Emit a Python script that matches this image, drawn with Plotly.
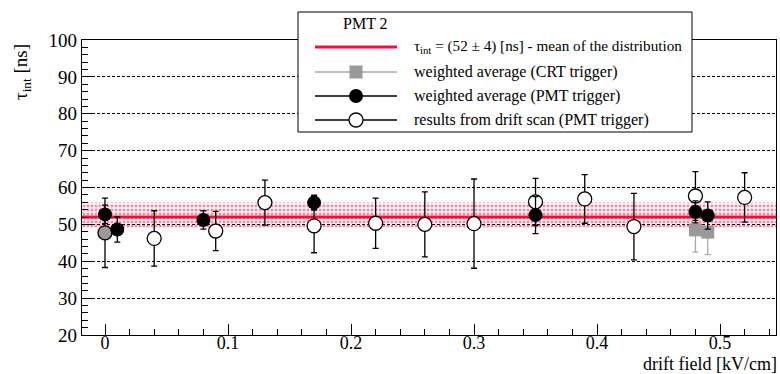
import plotly.graph_objects as go

# ---------------- data ----------------
scan_x = [0.0, 0.04, 0.09, 0.13, 0.17, 0.22, 0.26, 0.30, 0.35, 0.39, 0.43, 0.48, 0.52]
scan_y = [47.7, 46.2, 48.2, 55.9, 49.6, 50.3, 50.0, 50.2, 56.1, 56.9, 49.4, 57.7, 57.3]
scan_err = [9.4, 7.5, 5.3, 6.1, 7.3, 6.8, 8.8, 12.1, 6.4, 6.6, 9.0, 6.6, 6.7]

pmt_x = [0.0, 0.01, 0.08, 0.17, 0.35, 0.48, 0.49]
pmt_y = [52.7, 48.6, 51.2, 55.9, 52.5, 53.4, 52.4]
pmt_err = [2.5, 3.4, 2.5, 2.0, 5.0, 3.0, 3.7]

crt_x = [0.48, 0.49]
crt_y = [48.5, 47.9]
crt_err = [6.0, 6.1]

mean_val = 52.0
band_lo = 49.0
band_hi = 55.9

x_range = [-0.0187, 0.5455]
y_range = [20, 100]

# ---------------- layout geometry (pixels) ----------------
W, H = 780, 374
L, R, T, B = 82, 4, 40, 39
PW = W - L - R
PH = H - T - B


def px_x(px):
    return (px - L) / PW


def px_y(py):
    return (H - B - py) / PH


FONT = "Liberation Serif, DejaVu Serif, serif"
RED = "#ff0a3c"

fig = go.Figure()

# band (mean +- uncertainty)
fig.add_trace(go.Scatter(
    x=[x_range[0], x_range[1], x_range[1], x_range[0], x_range[0]],
    y=[band_lo, band_lo, band_hi, band_hi, band_lo],
    mode="lines", line=dict(width=0), fill="toself",
    fillcolor="rgba(255,255,255,0)",
    fillpattern=dict(shape=".", fgcolor=RED, bgcolor="rgba(0,0,0,0)", size=4, solidity=0.42),
    hoverinfo="skip", showlegend=False,
))
# mean line
fig.add_trace(go.Scatter(
    x=x_range, y=[mean_val, mean_val], mode="lines",
    line=dict(color=RED, width=3), hoverinfo="skip", showlegend=False,
))

scan_fill = ["#9a9a9a"] + ["white"] * (len(scan_x) - 1)
fig.add_trace(go.Scatter(
    x=scan_x, y=scan_y, mode="markers",
    marker=dict(symbol="circle", size=14, color=scan_fill, line=dict(color="black", width=1.3)),
    error_y=dict(type="data", array=scan_err, color="black", thickness=1.3, width=3),
    showlegend=False,
))
fig.add_trace(go.Scatter(
    x=crt_x, y=crt_y, mode="markers",
    marker=dict(symbol="square", size=13, color="#999999", line=dict(width=0)),
    error_y=dict(type="data", array=crt_err, color="#aaaaaa", thickness=1.3, width=3),
    showlegend=False,
))
fig.add_trace(go.Scatter(
    x=pmt_x, y=pmt_y, mode="markers",
    marker=dict(symbol="circle", size=14, color="black", line=dict(width=0)),
    error_y=dict(type="data", array=pmt_err, color="black", thickness=1.3, width=3),
    showlegend=False,
))

# ---------------- legend (drawn) ----------------
shapes = []
annotations = []
shapes.append(dict(type="rect", xref="paper", yref="paper",
                   x0=px_x(298), x1=px_x(692), y0=px_y(132), y1=px_y(12),
                   line=dict(color="black", width=1), fillcolor="white", layer="above"))
annotations.append(dict(text="PMT 2", xref="paper", yref="paper", x=px_x(365), y=px_y(23),
                        showarrow=False, font=dict(family=FONT, size=16, color="black"),
                        xanchor="center", yanchor="middle"))
rows = [
    (47, "τ<sub>int</sub> = (52 ± 4) [ns] - mean of the distribution", 15.2),
    (72, "weighted average (CRT trigger)", 16),
    (96, "weighted average (PMT trigger)", 16),
    (120, "results from drift scan (PMT trigger)", 16),
]
line_styles = [(RED, 3), ("#aaaaaa", 1.3), ("black", 1.3), ("black", 1.3)]
for (yy, txt, fs), (col, wd) in zip(rows, line_styles):
    shapes.append(dict(type="line", xref="paper", yref="paper",
                       x0=px_x(315), x1=px_x(397), y0=px_y(yy), y1=px_y(yy),
                       line=dict(color=col, width=wd), layer="above"))
    annotations.append(dict(text=txt, xref="paper", yref="paper", x=px_x(412), y=px_y(yy),
                            showarrow=False, font=dict(family=FONT, size=fs, color="black"),
                            xanchor="left", yanchor="middle"))
cx = 356
r = 7
shapes.append(dict(type="rect", xref="paper", yref="paper",
                   x0=px_x(cx - 6.5), x1=px_x(cx + 6.5), y0=px_y(72 + 6.5), y1=px_y(72 - 6.5),
                   line=dict(width=0), fillcolor="#999999", layer="above"))
shapes.append(dict(type="circle", xref="paper", yref="paper",
                   x0=px_x(cx - r), x1=px_x(cx + r), y0=px_y(96 + r), y1=px_y(96 - r),
                   line=dict(width=0), fillcolor="black", layer="above"))
shapes.append(dict(type="circle", xref="paper", yref="paper",
                   x0=px_x(cx - r), x1=px_x(cx + r), y0=px_y(120 + r), y1=px_y(120 - r),
                   line=dict(color="black", width=1.3), fillcolor="white", layer="above"))

# axis titles
annotations.append(dict(text="τ<sub>int</sub> [ns]", xref="paper", yref="paper",
                        x=px_x(22), y=px_y(72), textangle=-90, showarrow=False,
                        font=dict(family=FONT, size=19, color="black"),
                        xanchor="center", yanchor="middle"))
annotations.append(dict(text="drift field [kV/cm]", xref="paper", yref="paper",
                        x=px_x(779), y=px_y(364), showarrow=False,
                        font=dict(family=FONT, size=18, color="black"),
                        xanchor="right", yanchor="middle"))

fig.update_layout(
    width=W, height=H,
    margin=dict(l=L, r=R, t=T, b=B),
    paper_bgcolor="white", plot_bgcolor="white",
    font=dict(family=FONT, size=18, color="black"),
    showlegend=False,
    shapes=shapes, annotations=annotations,
    xaxis=dict(range=x_range, showline=True, linecolor="black", linewidth=1.2, mirror=True,
               ticks="inside", ticklen=11, tickwidth=1.2, tickcolor="black",
               dtick=0.1, tick0=0, showgrid=False, zeroline=False, ticklabelstandoff=-9,
               minor=dict(dtick=0.02, ticks="inside", ticklen=6, tickwidth=1.2, tickcolor="black"),
               tickfont=dict(family=FONT, size=18)),
    yaxis=dict(range=y_range, showline=True, linecolor="black", linewidth=1.2, mirror=True,
               ticks="inside", ticklen=12, tickwidth=1.2, tickcolor="black",
               dtick=10, tick0=0, showgrid=True, gridcolor="black", gridwidth=1,
               griddash="3px,2px", zeroline=False,
               minor=dict(dtick=2, ticks="inside", ticklen=6, tickwidth=1.2, tickcolor="black"),
               tickfont=dict(family=FONT, size=19)),
)

fig.write_html("out.html")
